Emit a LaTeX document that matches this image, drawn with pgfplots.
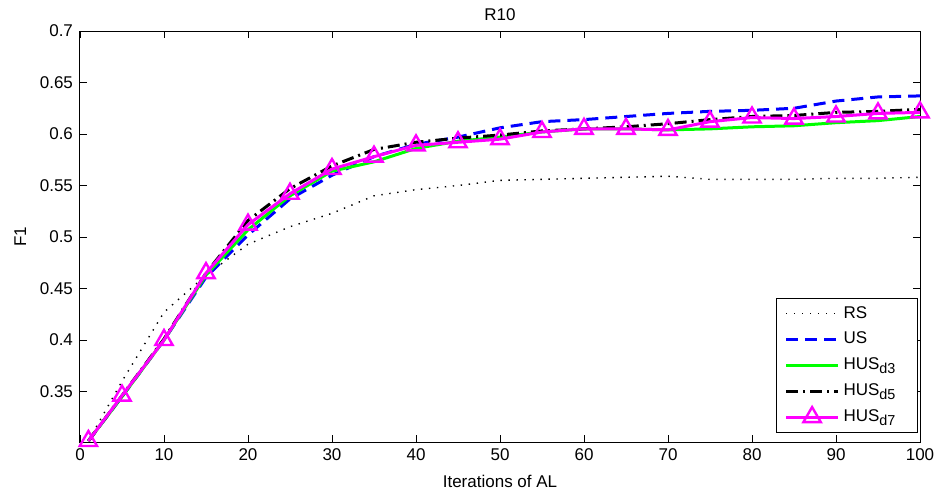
\documentclass[border=0pt]{standalone}
\usepackage{fontspec}
\setmainfont{Liberation Sans}
\usepackage{pgfplots}
\pgfplotsset{compat=1.18}
\newcommand{\sub}[1]{\raisebox{-0.45ex}{\fontsize{7.2}{8}\selectfont #1}\hspace*{5pt}}
\begin{document}
\begin{tikzpicture}
\begin{axis}[
  at={(0,0)}, anchor=south west,
  scale only axis, width=420pt, height=205.5pt,
  xmin=0, xmax=100, ymin=0.301, ymax=0.7,
  xtick={0,10,...,100},
  ytick={0.35,0.4,0.45,0.5,0.55,0.6,0.65,0.7},
  yticklabels={0.35,0.4,0.45,0.5,0.55,0.6,0.65,0.7},
  tick align=inside, major tick length=3.5pt,
  tick style={black, line width=0.4pt},
  axis line style={line width=0.5pt},
  /pgf/number format/assume math mode=true,
  tick label style={font=\fontsize{8.5}{10}\selectfont},
  label style={font=\fontsize{8.5}{10}\selectfont},
  title style={font=\fontsize{8.5}{10}\selectfont, yshift=-4.5pt},
  title={R10},
  xlabel={Iterations of AL},
  ylabel={F1},
  legend cell align=left,
  legend style={at={(1,0)}, anchor=south east, xshift=-1pt, yshift=4.5pt,
    font=\fontsize{8.5}{10}\selectfont, draw=black, line width=0.5pt,
    inner xsep=4pt, inner ysep=2pt, row sep=1.5pt},
  legend image code/.code={\draw[mark repeat=2,mark phase=2,#1] plot coordinates {(0pt,0pt) (13pt,0pt) (26pt,0pt)};},
]
\addplot[black, line width=0.7pt, dash pattern=on 0.7pt off 3.3pt] coordinates {
(1,0.302) (5,0.360) (10,0.427) (15,0.463) (20,0.493) (25,0.510) (30,0.523) (35,0.540) (40,0.546) (45,0.550) (50,0.555) (55,0.556) (60,0.557) (65,0.558) (70,0.559) (75,0.556) (80,0.556) (85,0.556) (90,0.557) (95,0.557) (100,0.558)};
\addlegendentry{RS}
\addplot[blue, line width=1.5pt, dash pattern=on 6pt off 3.5pt] coordinates {
(1,0.302) (5,0.345) (10,0.400) (15,0.461) (20,0.502) (25,0.537) (30,0.560) (35,0.578) (40,0.590) (45,0.597) (50,0.606) (55,0.612) (60,0.614) (65,0.617) (70,0.620) (75,0.622) (80,0.623) (85,0.625) (90,0.632) (95,0.636) (100,0.637)};
\addlegendentry{US}
\addplot[color={rgb,1:red,0;green,1;blue,0}, line width=1.5pt] coordinates {
(1,0.302) (5,0.345) (10,0.400) (15,0.463) (20,0.507) (25,0.540) (30,0.564) (35,0.573) (40,0.586) (45,0.593) (50,0.597) (55,0.602) (60,0.605) (65,0.605) (70,0.604) (75,0.605) (80,0.607) (85,0.608) (90,0.611) (95,0.613) (100,0.617)};
\addlegendentry{HUS\sub{d3}}
\addplot[black, line width=1.5pt, dash pattern=on 6pt off 2.5pt on 1pt off 2.5pt] coordinates {
(1,0.302) (5,0.346) (10,0.401) (15,0.465) (20,0.516) (25,0.547) (30,0.569) (35,0.585) (40,0.592) (45,0.596) (50,0.599) (55,0.603) (60,0.605) (65,0.607) (70,0.610) (75,0.614) (80,0.617) (85,0.618) (90,0.621) (95,0.622) (100,0.624)};
\addlegendentry{HUS\sub{d5}}
\addplot[color={rgb,1:red,1;green,0;blue,1}, line width=1.5pt, mark=triangle, mark size=5pt, mark options={solid, line width=1.2pt, fill=white}] coordinates {
(1,0.302) (5,0.346) (10,0.400) (15,0.465) (20,0.512) (25,0.542) (30,0.566) (35,0.578) (40,0.589) (45,0.592) (50,0.595) (55,0.602) (60,0.605) (65,0.605) (70,0.604) (75,0.612) (80,0.616) (85,0.615) (90,0.617) (95,0.620) (100,0.621)};
\addlegendentry{HUS\sub{d7}}
\end{axis}
\pgfresetboundingbox
\useasboundingbox (-40pt,-26.5pt) rectangle (431pt,221pt);
\end{tikzpicture}
\end{document}
